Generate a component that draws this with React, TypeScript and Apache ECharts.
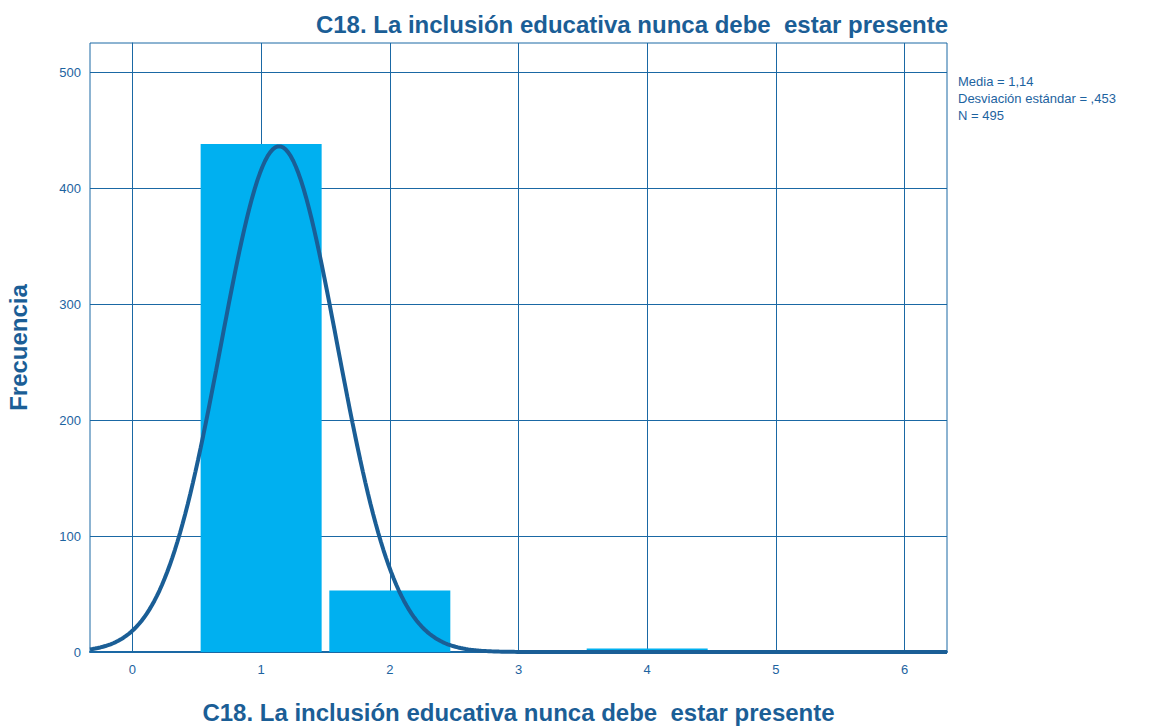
import React, { useEffect, useRef } from "react";
import * as echarts from "echarts";

const titleText = "C18. La inclusión educativa nunca debe  estar presente";
const yTitle = "Frecuencia";
const binValues = [1, 2, 4];
const binCounts = [438, 53, 3];
const xTicks = [0, 1, 2, 3, 4, 5, 6];
const yTicks = [0, 100, 200, 300, 400, 500];
const statMean = 1.14;
const statSd = 0.453;
const statN = 495;
const statLines = ["Media = 1,14", "Desviación estándar = ,453", "N = 495"];

const X_MIN = -0.33;
const X_MAX = 6.33;

export default function App() {
  const ref = useRef<HTMLDivElement>(null);
  useEffect(() => {
    if (!ref.current) return;
    const chart = echarts.init(ref.current, null, { renderer: "svg" });
    const lineColor = "#1a68a4";
    const textColor = "#1d63a0";
    const curve: number[][] = [];
    for (let x = X_MIN; x <= X_MAX + 1e-9; x += 0.02) {
      const z = (x - statMean) / statSd;
      curve.push([x, (statN / (statSd * Math.sqrt(2 * Math.PI))) * Math.exp(-0.5 * z * z)]);
    }
    const font = "'Liberation Sans', Arial, sans-serif";
    const bigTitle = { color: "#1b5e96", fontSize: 24, fontWeight: "bold", fontFamily: font };
    chart.setOption({
      animation: false,
      textStyle: { fontFamily: font },
      title: {
        text: titleText,
        left: 627,
        top: 7,
        textAlign: "center",
        textStyle: bigTitle,
      },
      grid: {
        left: 90,
        right: 218,
        top: 43,
        bottom: 75,
        show: true,
        borderColor: lineColor,
        borderWidth: 1,
        containLabel: false,
        outerBoundsMode: "none",
      },
      xAxis: {
        type: "value",
        min: X_MIN,
        max: X_MAX,
        name: titleText,
        nameLocation: "middle",
        nameGap: 48,
        nameTextStyle: bigTitle,
        axisLine: { show: true, onZero: false, lineStyle: { color: lineColor, width: 2 } },
        axisTick: { show: false, customValues: xTicks },
        splitLine: { show: true, lineStyle: { color: lineColor, width: 1 } },
        axisLabel: {
          customValues: xTicks,
          color: textColor,
          fontSize: 13,
          margin: 11,
          formatter: (v: number) => String(Math.round(v)),
        },
      },
      yAxis: {
        type: "value",
        min: 0,
        max: 525,
        interval: 100,
        name: yTitle,
        nameLocation: "middle",
        nameGap: 60,
        nameTextStyle: bigTitle,
        axisLine: { show: true, lineStyle: { color: lineColor, width: 1 } },
        axisTick: { show: false, customValues: yTicks },
        splitLine: { show: true, lineStyle: { color: lineColor, width: 1 } },
        axisLabel: {
          color: textColor,
          fontSize: 13,
          margin: 9,
          customValues: yTicks,
        },
      },
      series: [
        {
          type: "bar",
          data: binValues.map((v, i) => [v, binCounts[i]]),
          barWidth: 121,
          itemStyle: { color: "#00b0f0" },
          z: 3,
        },
        {
          type: "line",
          data: curve,
          showSymbol: false,
          symbol: "none",
          smooth: false,
          lineStyle: { color: "#1a5e96", width: 4 },
          z: 4,
        },
      ],
      graphic: statLines.map((t, i) => ({
        type: "text",
        left: 958,
        top: 75 + i * 17,
        style: { text: t, fill: textColor, font: `13px ${font}` },
      })),
    });
    return () => chart.dispose();
  }, []);
  return (
    <div
      ref={ref}
      style={{ position: "absolute", left: 0, top: 0, width: 1165, height: 727, background: "#fff" }}
    />
  );
}
